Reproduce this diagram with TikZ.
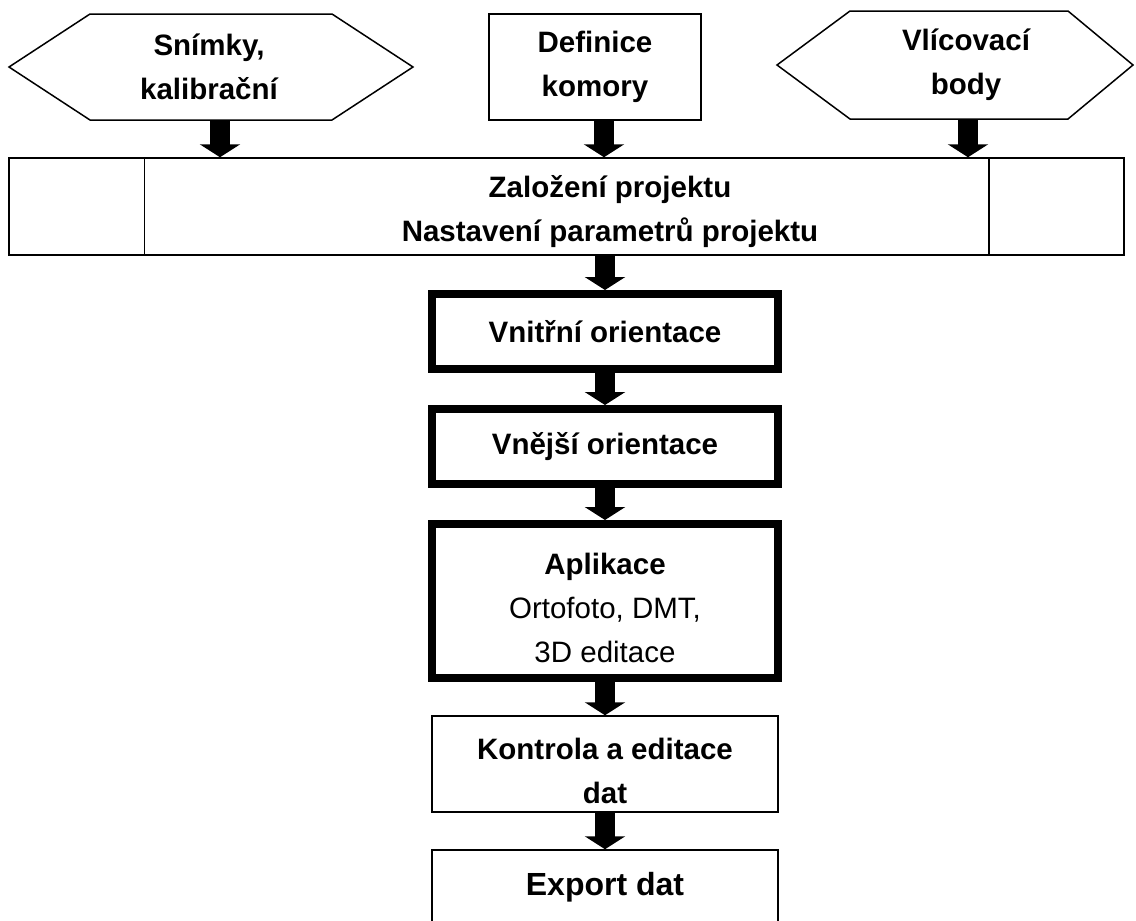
\documentclass[tikz,border=0pt]{standalone}
\usepackage{fontspec}
\setmainfont{Liberation Sans}
\usetikzlibrary{arrows.meta}
\begin{document}
\begin{tikzpicture}[x=1pt,y=-1pt,
  thinbox/.style={draw, line width=1.5pt, inner sep=0pt},
  thickbox/.style={draw, line width=8pt, inner sep=0pt},
  ghost/.style={inner sep=0pt, outer sep=0pt},
  lbl/.style={align=center, inner sep=0pt, font=\fontsize{29.5}{44}\selectfont\bfseries},
  hexline/.style={line width=1.5pt, line join=miter},
  barrow/.style={line width=20pt, -{Triangle[width=40pt,length=13pt]}}]
\useasboundingbox (0,0) rectangle (1136,921);
\clip (0,0) rectangle (1136,921);

% top row
\node[ghost, minimum width=404pt, minimum height=106pt] (hex1) at (211,67) {};
\draw[hexline] (hex1.west) -- ([xshift=81pt]hex1.north west) -- ([xshift=-81pt]hex1.north east)
  -- (hex1.east) -- ([xshift=-81pt]hex1.south east) -- ([xshift=81pt]hex1.south west) -- cycle;
\node[lbl] (hex1text) at (209,66.5) {Snímky,\\kalibrační};

\node[thinbox, lbl, minimum width=212pt, minimum height=106pt] (defn) at (595,67) {Definice\\komory};

\node[ghost, minimum width=356pt, minimum height=108pt] (hex3) at (955,65) {};
\draw[hexline] (hex3.west) -- ([xshift=73pt]hex3.north west) -- ([xshift=-65pt]hex3.north east)
  -- (hex3.east) -- ([xshift=-65pt]hex3.south east) -- ([xshift=73pt]hex3.south west) -- cycle;
\node[lbl] (hex3text) at (966,65) {Vlícovací\\body};

% project row
\node[thinbox, minimum width=1115pt, minimum height=97pt] (proj) at (566.5,206.5) {};
\draw[line width=1.5pt] ([xshift=136pt]proj.north west) -- ([xshift=136pt]proj.south west);
\draw[line width=1.5pt] ([xshift=-136pt]proj.north east) -- ([xshift=-136pt]proj.south east);
\node[lbl] (projtext) at (610,211.5) {Založení projektu\\Nastavení parametrů projektu};

% main column
\node[thickbox, lbl, minimum width=346pt, minimum height=75pt] (vni) at (605,331.5) {Vnitřní orientace};
\node[thickbox, lbl, minimum width=346pt, minimum height=75pt] (vne) at (605,446.5) {Vnější orientace};
\node[thickbox, minimum width=346pt, minimum height=154pt] (apl) at (605,601) {};
\node[lbl] (apltext) at (605,607.5) {Aplikace\\\mdseries Ortofoto, DMT,\\\mdseries 3D editace};
\node[thinbox, minimum width=346pt, minimum height=96pt] (kon) at (605,764) {};
\node[lbl] (kontext) at (605,771) {Kontrola a editace\\dat};
\node[thinbox, minimum width=346pt, minimum height=100pt] (exp) at (605,900) {};
\node[lbl, font=\fontsize{32}{40}\selectfont\bfseries] (exptext) at (605,887) {Export dat};

% arrows
\draw[barrow] ([xshift=9pt]hex1.south) -- ([xshift=9pt]hex1.south |- proj.north);
\draw[barrow] ([xshift=9pt]defn.south) -- ([xshift=9pt]defn.south |- proj.north);
\draw[barrow] ([xshift=13pt]hex3.south) -- ([xshift=13pt]hex3.south |- proj.north);
\draw[barrow] (proj.south -| vni.north) -- (vni.north);
\draw[barrow] (vni.south) -- (vne.north);
\draw[barrow] (vne.south) -- (apl.north);
\draw[barrow] (apl.south) -- (kon.north);
\draw[barrow] (kon.south) -- (exp.north);
\end{tikzpicture}
\end{document}
